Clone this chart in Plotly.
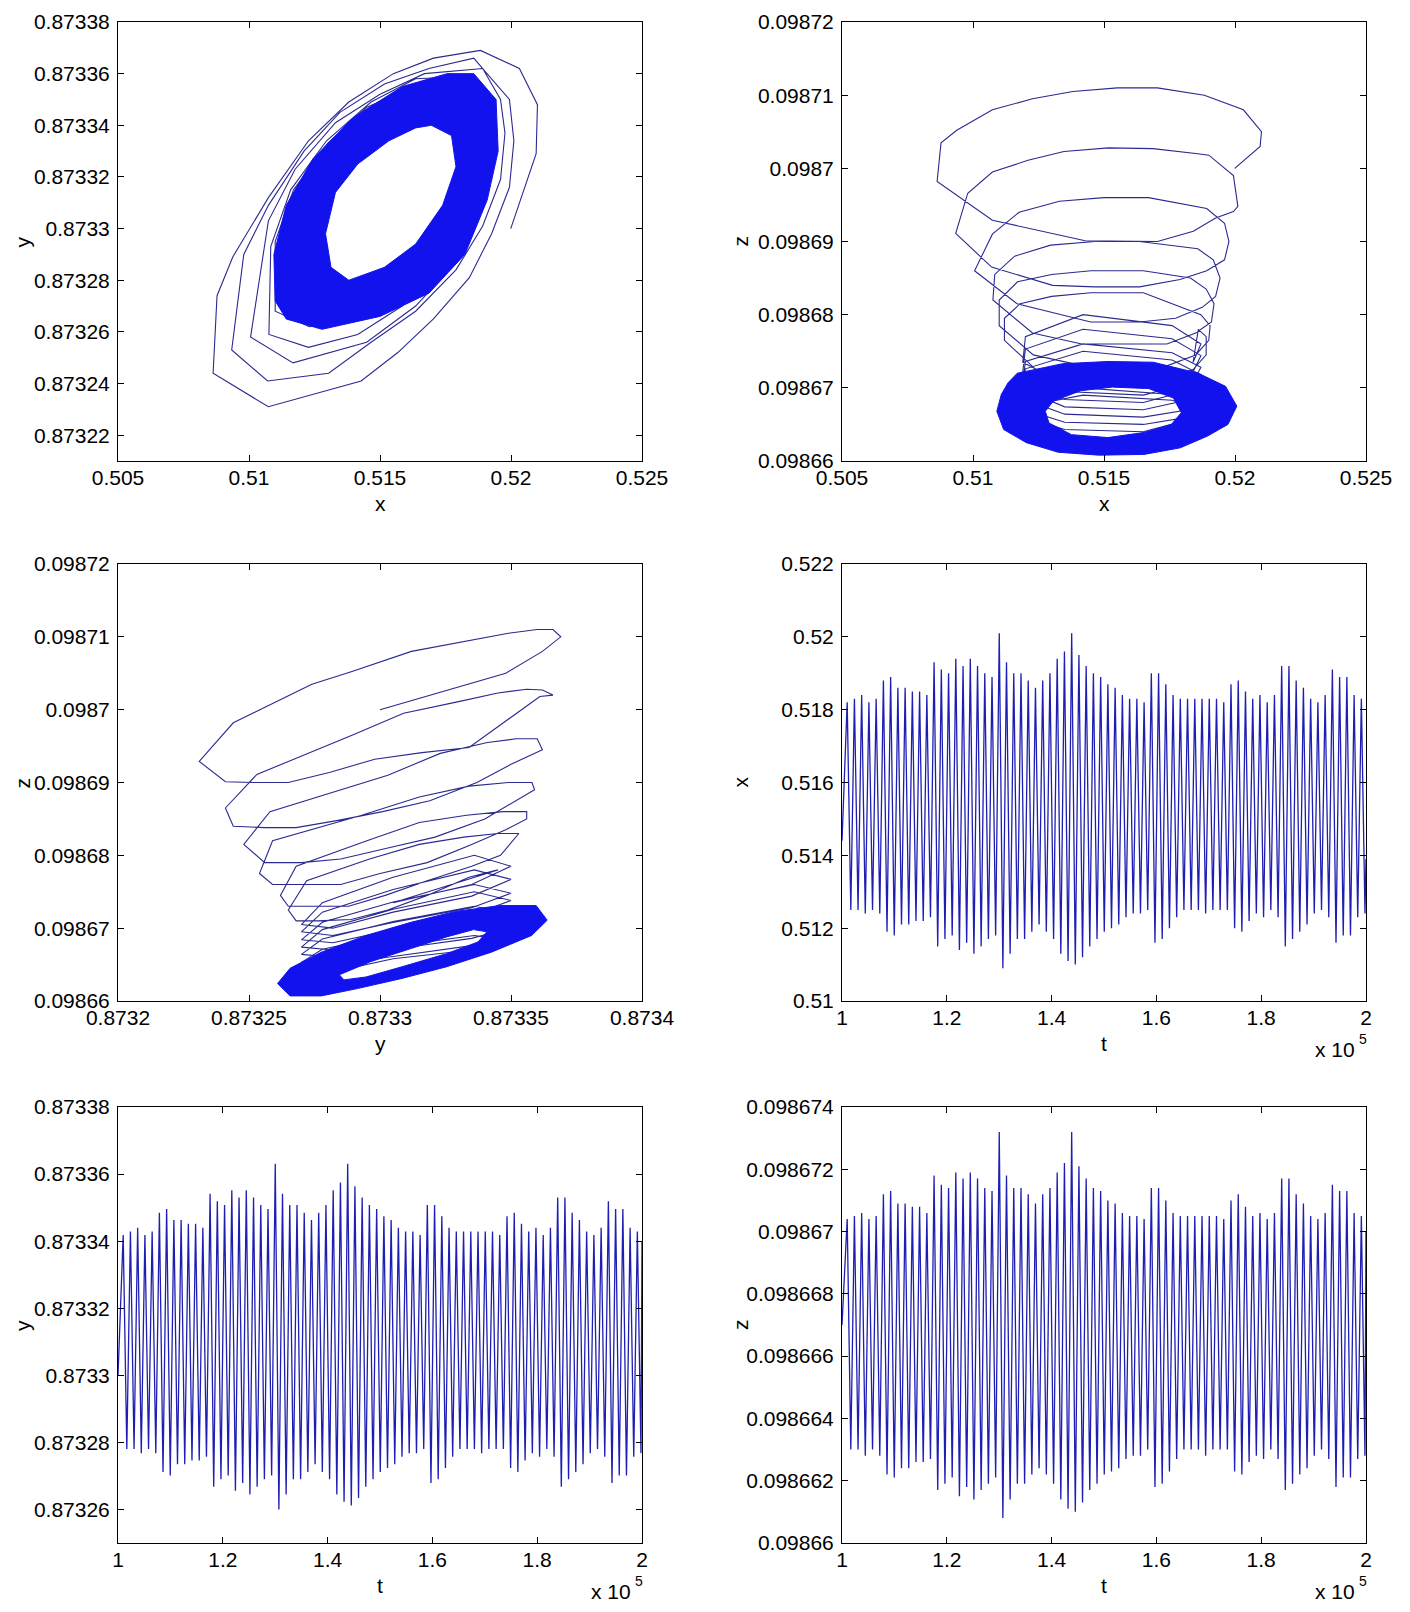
import numpy as np
import plotly.graph_objects as go

FONT = "Liberation Sans, Arial, sans-serif"
LINE = "#2a2a90"     # thin trajectory lines
DENSE = "#1212ee"    # dense attractor band
TS = "#1e1eb2"       # time series

# ---------------- time series (one max + one min per oscillation) ----------------
t_first = 100990     # time of first maximum
t_period = 1382      # oscillation period
t_edges = [100000, 200000]

x_hi = [0.5182, 0.5183, 0.5184, 0.5182, 0.5183, 0.5188, 0.5189, 0.5186, 0.5186, 0.5185,
        0.5185, 0.5184, 0.5193, 0.5191, 0.5190, 0.5194, 0.5192, 0.5194, 0.5192, 0.5190,
        0.5189, 0.5201, 0.5193, 0.5190, 0.5190, 0.5188, 0.5186, 0.5188, 0.5190, 0.5194,
        0.5196, 0.5201, 0.5195, 0.5192, 0.5190, 0.5189, 0.5187, 0.5186, 0.5184, 0.5183,
        0.5183, 0.5182, 0.5190, 0.5190, 0.5187, 0.5184, 0.5183, 0.5183, 0.5183, 0.5183,
        0.5183, 0.5183, 0.5182, 0.5187, 0.5188, 0.5185, 0.5183, 0.5184, 0.5182, 0.5184,
        0.5192, 0.5192, 0.5188, 0.5186, 0.5183, 0.5182, 0.5184, 0.5191, 0.5189, 0.5189,
        0.5184, 0.5183]
x_lo = [0.5125, 0.5125, 0.5124, 0.5125, 0.5124, 0.5119, 0.5118, 0.5121, 0.5121, 0.5122,
        0.5122, 0.5123, 0.5115, 0.5117, 0.5118, 0.5114, 0.5116, 0.5113, 0.5115, 0.5117,
        0.5118, 0.5109, 0.5113, 0.5117, 0.5117, 0.5119, 0.5121, 0.5119, 0.5117, 0.5113,
        0.5111, 0.5110, 0.5112, 0.5115, 0.5117, 0.5119, 0.5120, 0.5121, 0.5123, 0.5124,
        0.5124, 0.5125, 0.5116, 0.5117, 0.5120, 0.5123, 0.5125, 0.5125, 0.5125, 0.5124,
        0.5125, 0.5125, 0.5125, 0.5120, 0.5119, 0.5122, 0.5124, 0.5123, 0.5125, 0.5123,
        0.5115, 0.5117, 0.5119, 0.5121, 0.5124, 0.5125, 0.5123, 0.5116, 0.5118, 0.5118,
        0.5123, 0.5124]
x_edges = [0.5144, 0.5139]

y_hi = [0.8733418, 0.8733429, 0.8733440, 0.8733418, 0.8733429, 0.8733485, 0.8733496, 0.8733463, 0.8733463, 0.8733452,
        0.8733452, 0.8733440, 0.8733541, 0.8733519, 0.8733508, 0.8733552, 0.8733530, 0.8733552, 0.8733530, 0.8733508,
        0.8733496, 0.8733631, 0.8733541, 0.8733508, 0.8733508, 0.8733485, 0.8733463, 0.8733485, 0.8733508, 0.8733552,
        0.8733575, 0.8733631, 0.8733564, 0.8733530, 0.8733508, 0.8733496, 0.8733474, 0.8733463, 0.8733440, 0.8733429,
        0.8733429, 0.8733418, 0.8733508, 0.8733508, 0.8733474, 0.8733440, 0.8733429, 0.8733429, 0.8733429, 0.8733429,
        0.8733429, 0.8733429, 0.8733418, 0.8733474, 0.8733485, 0.8733452, 0.8733429, 0.8733440, 0.8733418, 0.8733440,
        0.8733530, 0.8733530, 0.8733485, 0.8733463, 0.8733429, 0.8733418, 0.8733440, 0.8733519, 0.8733496, 0.8733496,
        0.8733440, 0.8733429]
y_lo = [0.8732780, 0.8732780, 0.8732768, 0.8732780, 0.8732768, 0.8732712, 0.8732701, 0.8732735, 0.8732735, 0.8732746,
        0.8732746, 0.8732757, 0.8732668, 0.8732690, 0.8732701, 0.8732656, 0.8732679, 0.8732645, 0.8732668, 0.8732690,
        0.8732701, 0.8732600, 0.8732645, 0.8732690, 0.8732690, 0.8732712, 0.8732735, 0.8732712, 0.8732690, 0.8732645,
        0.8732623, 0.8732612, 0.8732634, 0.8732668, 0.8732690, 0.8732712, 0.8732724, 0.8732735, 0.8732757, 0.8732768,
        0.8732768, 0.8732780, 0.8732679, 0.8732690, 0.8732724, 0.8732757, 0.8732780, 0.8732780, 0.8732780, 0.8732768,
        0.8732780, 0.8732780, 0.8732780, 0.8732724, 0.8732712, 0.8732746, 0.8732768, 0.8732757, 0.8732780, 0.8732757,
        0.8732668, 0.8732690, 0.8732712, 0.8732735, 0.8732768, 0.8732780, 0.8732757, 0.8732679, 0.8732701, 0.8732701,
        0.8732757, 0.8732768]
y_edges = [0.87330, 0.87334]

z_hi = [0.0986704, 0.0986705, 0.0986706, 0.0986704, 0.0986705, 0.0986712, 0.0986713, 0.0986709, 0.0986709, 0.0986708,
        0.0986708, 0.0986706, 0.0986718, 0.0986715, 0.0986714, 0.0986719, 0.0986717, 0.0986719, 0.0986717, 0.0986714,
        0.0986713, 0.0986732, 0.0986718, 0.0986714, 0.0986714, 0.0986712, 0.0986709, 0.0986712, 0.0986714, 0.0986719,
        0.0986722, 0.0986732, 0.0986721, 0.0986717, 0.0986714, 0.0986713, 0.0986710, 0.0986709, 0.0986706, 0.0986705,
        0.0986705, 0.0986704, 0.0986714, 0.0986714, 0.0986710, 0.0986706, 0.0986705, 0.0986705, 0.0986705, 0.0986705,
        0.0986705, 0.0986705, 0.0986704, 0.0986710, 0.0986712, 0.0986708, 0.0986705, 0.0986706, 0.0986704, 0.0986706,
        0.0986717, 0.0986717, 0.0986712, 0.0986709, 0.0986705, 0.0986704, 0.0986706, 0.0986715, 0.0986713, 0.0986713,
        0.0986706, 0.0986705]
z_lo = [0.0986630, 0.0986630, 0.0986628, 0.0986630, 0.0986628, 0.0986622, 0.0986621, 0.0986624, 0.0986624, 0.0986626,
        0.0986626, 0.0986627, 0.0986617, 0.0986619, 0.0986621, 0.0986615, 0.0986618, 0.0986614, 0.0986617, 0.0986619,
        0.0986621, 0.0986608, 0.0986614, 0.0986619, 0.0986619, 0.0986622, 0.0986624, 0.0986622, 0.0986619, 0.0986614,
        0.0986611, 0.0986610, 0.0986613, 0.0986617, 0.0986619, 0.0986622, 0.0986623, 0.0986624, 0.0986627, 0.0986628,
        0.0986628, 0.0986630, 0.0986618, 0.0986619, 0.0986623, 0.0986627, 0.0986630, 0.0986630, 0.0986630, 0.0986628,
        0.0986630, 0.0986630, 0.0986630, 0.0986623, 0.0986622, 0.0986626, 0.0986628, 0.0986627, 0.0986630, 0.0986627,
        0.0986617, 0.0986619, 0.0986622, 0.0986624, 0.0986628, 0.0986630, 0.0986627, 0.0986618, 0.0986621, 0.0986621,
        0.0986627, 0.0986628]
z_edges = [0.098667, 0.09867]

# ---------------- transient trajectory vertices (x, y, z) ----------------
traj_x = [0.51999, 0.52096, 0.52101, 0.52032, 0.51883, 0.51704, 0.51551, 0.51381, 0.51227, 0.51074,
          0.50938, 0.50878, 0.50863, 0.51074, 0.51428, 0.51568, 0.51704, 0.51841, 0.51926, 0.51994,
          0.52011, 0.51994, 0.51900, 0.51858, 0.51687, 0.51517, 0.51347, 0.51210, 0.51074, 0.50980,
          0.50934, 0.51071, 0.51304, 0.51466, 0.51636, 0.51790, 0.51892, 0.51960, 0.51977, 0.51960,
          0.51892, 0.51670, 0.51500, 0.51330, 0.51176, 0.51074, 0.51006, 0.51168, 0.51449, 0.51636,
          0.51773, 0.51875, 0.51926, 0.51943, 0.51917, 0.51858, 0.51636, 0.51466, 0.51296, 0.51159,
          0.51083, 0.51076, 0.51227, 0.51415, 0.51585, 0.51740, 0.51850, 0.51910, 0.51920, 0.51890,
          0.51830, 0.51650, 0.51450, 0.51300, 0.51170, 0.51100, 0.51100, 0.51230, 0.51420, 0.51590,
          0.51740, 0.51850, 0.51900, 0.51905, 0.51870, 0.51650, 0.51450, 0.51300, 0.51180, 0.51120,
          0.51120, 0.51240, 0.51420, 0.51590, 0.51740, 0.51840, 0.51890, 0.51890, 0.51860,
          0.51840, 0.51870, 0.51760, 0.51420, 0.51200, 0.51190, 0.51350, 0.51650,
          0.51840, 0.51870, 0.51760, 0.51420, 0.51200, 0.51190, 0.51350, 0.51650,
          0.51840, 0.51870, 0.51760, 0.51420, 0.51200, 0.51190, 0.51350, 0.51650,
          0.51840, 0.51870, 0.51760, 0.51420, 0.51200, 0.51190, 0.51350, 0.51650,
          0.51840, 0.51870, 0.51760, 0.51420, 0.51200, 0.51190, 0.51350, 0.51650,
          0.51840, 0.51870, 0.51760, 0.51420, 0.51200, 0.51190, 0.51350, 0.51650,
          0.51840, 0.51870, 0.51760, 0.51420, 0.51200, 0.51190, 0.51350, 0.51650,
          0.51840, 0.51870, 0.51760, 0.51420, 0.51200, 0.51190, 0.51350, 0.51650]
traj_y = [0.873300, 0.873329, 0.873348, 0.873362, 0.873369, 0.873366, 0.873360, 0.873349, 0.873334, 0.873312,
          0.873289, 0.873274, 0.873244, 0.873231, 0.873241, 0.873252, 0.873265, 0.873281, 0.873298, 0.873316,
          0.873334, 0.873350, 0.873361, 0.873366, 0.873362, 0.873356, 0.873345, 0.873330, 0.873309, 0.873290,
          0.873253, 0.873241, 0.873244, 0.873256, 0.873268, 0.873284, 0.873301, 0.873319, 0.873337, 0.873350,
          0.873362, 0.873360, 0.873352, 0.873341, 0.873323, 0.873303, 0.873258, 0.873248, 0.873256, 0.873270,
          0.873285, 0.873303, 0.873321, 0.873340, 0.873352, 0.873359, 0.873358, 0.873349, 0.873334, 0.873315,
          0.873293, 0.873259, 0.873254, 0.873259, 0.873270, 0.873285, 0.873300, 0.873318, 0.873335, 0.873348,
          0.873356, 0.873356, 0.873347, 0.873333, 0.873315, 0.873295, 0.873268, 0.873262, 0.873265, 0.873274,
          0.873288, 0.873302, 0.873318, 0.873335, 0.873346, 0.873353, 0.873345, 0.873332, 0.873315, 0.873296,
          0.873272, 0.873265, 0.873268, 0.873276, 0.873289, 0.873303, 0.873318, 0.873334, 0.873345,
          0.873305, 0.873335, 0.873350, 0.873336, 0.873305, 0.873278, 0.873270, 0.873282,
          0.873305, 0.873335, 0.873350, 0.873336, 0.873305, 0.873278, 0.873270, 0.873282,
          0.873305, 0.873335, 0.873350, 0.873336, 0.873305, 0.873278, 0.873270, 0.873282,
          0.873305, 0.873335, 0.873350, 0.873336, 0.873305, 0.873278, 0.873270, 0.873282,
          0.873305, 0.873335, 0.873350, 0.873336, 0.873305, 0.873278, 0.873270, 0.873282,
          0.873305, 0.873335, 0.873350, 0.873336, 0.873305, 0.873278, 0.873270, 0.873282,
          0.873305, 0.873335, 0.873350, 0.873336, 0.873305, 0.873278, 0.873270, 0.873282,
          0.873305, 0.873335, 0.873350, 0.873336, 0.873305, 0.873278, 0.873270, 0.873282]
traj_z = [0.0987000, 0.0987030, 0.0987050, 0.0987080, 0.0987100, 0.0987110, 0.0987110, 0.0987105, 0.0987095, 0.0987080,
          0.0987052, 0.0987035, 0.0986982, 0.0986929, 0.0986901, 0.0986900, 0.0986900, 0.0986914, 0.0986932, 0.0986941,
          0.0986948, 0.0986990, 0.0987018, 0.0987020, 0.0987027, 0.0987028, 0.0987023, 0.0987011, 0.0986995, 0.0986966,
          0.0986911, 0.0986865, 0.0986840, 0.0986838, 0.0986838, 0.0986848, 0.0986860, 0.0986875, 0.0986900, 0.0986925,
          0.0986945, 0.0986960, 0.0986960, 0.0986955, 0.0986940, 0.0986910, 0.0986860, 0.0986815, 0.0986790, 0.0986790,
          0.0986795, 0.0986810, 0.0986825, 0.0986850, 0.0986875, 0.0986890, 0.0986900, 0.0986900, 0.0986895, 0.0986880,
          0.0986855, 0.0986820, 0.0986775, 0.0986760, 0.0986760, 0.0986760, 0.0986775, 0.0986790, 0.0986815, 0.0986835,
          0.0986850, 0.0986860, 0.0986860, 0.0986855, 0.0986845, 0.0986820, 0.0986785, 0.0986745, 0.0986730, 0.0986730,
          0.0986730, 0.0986745, 0.0986765, 0.0986785, 0.0986800, 0.0986830, 0.0986830, 0.0986825, 0.0986815, 0.0986795,
          0.0986765, 0.0986725, 0.0986710, 0.0986710, 0.0986712, 0.0986725, 0.0986745, 0.0986770, 0.0986780,
          0.0986735, 0.0986760, 0.0986785, 0.0986800, 0.0986770, 0.0986735, 0.0986705, 0.0986700,
          0.0986722, 0.0986744, 0.0986767, 0.0986780, 0.0986753, 0.0986722, 0.0986695, 0.0986690,
          0.0986708, 0.0986728, 0.0986748, 0.0986760, 0.0986736, 0.0986708, 0.0986684, 0.0986680,
          0.0986698, 0.0986718, 0.0986738, 0.0986750, 0.0986726, 0.0986698, 0.0986674, 0.0986670,
          0.0986685, 0.0986702, 0.0986720, 0.0986730, 0.0986709, 0.0986685, 0.0986664, 0.0986660,
          0.0986671, 0.0986686, 0.0986701, 0.0986710, 0.0986692, 0.0986671, 0.0986653, 0.0986650,
          0.0986661, 0.0986676, 0.0986691, 0.0986700, 0.0986682, 0.0986661, 0.0986643, 0.0986640,
          0.0986658, 0.0986670, 0.0986683, 0.0986690, 0.0986675, 0.0986658, 0.0986643, 0.0986640]

# ---------------- dense attractor bands (outer / inner outline) ----------------
xy_out_x = [0.51858, 0.51943, 0.51951, 0.51909, 0.51824, 0.51687, 0.51500, 0.51279, 0.51142, 0.51100,
            0.51095, 0.51142, 0.51244, 0.51398, 0.51585, 0.51756]
xy_out_y = [0.873360, 0.873350, 0.873330, 0.873311, 0.873290, 0.873275, 0.873266, 0.873261, 0.873265, 0.873272,
            0.873290, 0.873309, 0.873327, 0.873343, 0.873355, 0.873360]
xy_in_x = [0.51696, 0.51773, 0.51790, 0.51739, 0.51636, 0.51517, 0.51381, 0.51313, 0.51292, 0.51330,
           0.51415, 0.51534, 0.51636]
xy_in_y = [0.873340, 0.873336, 0.873324, 0.873309, 0.873294, 0.873285, 0.873280, 0.873285, 0.873298, 0.873314,
           0.873325, 0.873334, 0.873339]

xz_out_x = [0.51169, 0.51342, 0.51515, 0.51688, 0.51860, 0.51964, 0.52007, 0.51973, 0.51895, 0.51791,
            0.51653, 0.51480, 0.51325, 0.51204, 0.51117, 0.51091, 0.51108, 0.51134]
xz_out_z = [0.0986720, 0.0986733, 0.0986736, 0.0986735, 0.0986720, 0.0986702, 0.0986675, 0.0986650, 0.0986634, 0.0986618,
            0.0986609, 0.0986608, 0.0986612, 0.0986625, 0.0986643, 0.0986668, 0.0986691, 0.0986707]
xz_in_x = [0.51307, 0.51411, 0.51532, 0.51670, 0.51765, 0.51795, 0.51757, 0.51653, 0.51515, 0.51376,
           0.51290, 0.51276]
xz_in_z = [0.0986682, 0.0986696, 0.0986701, 0.0986699, 0.0986686, 0.0986666, 0.0986650, 0.0986639, 0.0986632, 0.0986636,
           0.0986652, 0.0986668]

yz_out_y = [0.8732609, 0.8732657, 0.8732776, 0.8732947, 0.8733118, 0.8733288, 0.8733459, 0.8733596, 0.8733638, 0.8733579,
            0.8733425, 0.8733254, 0.8733084, 0.8732913, 0.8732776, 0.8732657]
yz_out_z = [0.0986624, 0.0986645, 0.0986667, 0.0986690, 0.0986708, 0.0986723, 0.0986731, 0.0986731, 0.0986711, 0.0986690,
            0.0986667, 0.0986647, 0.0986631, 0.0986617, 0.0986607, 0.0986607]
yz_in_y = [0.8732845, 0.8732964, 0.8733118, 0.8733254, 0.8733357, 0.8733408, 0.8733374, 0.8733254, 0.8733084, 0.8732947,
           0.8732862]
yz_in_z = [0.0986636, 0.0986654, 0.0986672, 0.0986688, 0.0986698, 0.0986695, 0.0986681, 0.0986665, 0.0986647, 0.0986633,
           0.0986629]

# ---------------- build traces ----------------
k = np.arange(len(x_hi))
t_hi = t_first + k * t_period
t_lo = t_hi + t_period / 2
ts_t = np.concatenate([[t_edges[0]], np.column_stack([t_hi, t_lo]).ravel(), [t_edges[1]]])


def zigzag(hi, lo, edges):
    return np.concatenate([[edges[0]], np.column_stack([hi, lo]).ravel(), [edges[1]]])


def band(ox, oy, ix, iy, xa, ya):
    # outer outline + reversed inner outline -> filled ring with a hole
    xs = list(ox) + [ox[0], None] + list(ix[::-1]) + [ix[-1]]
    ys = list(oy) + [oy[0], None] + list(iy[::-1]) + [iy[-1]]
    return go.Scatter(x=xs, y=ys, mode="lines", fill="toself", fillcolor=DENSE,
                      line=dict(color=DENSE, width=1), xaxis=xa, yaxis=ya, hoverinfo="skip")


def path(xs, ys, xa, ya, color=LINE, width=1.1):
    return go.Scatter(x=xs, y=ys, mode="lines", line=dict(color=color, width=width),
                      xaxis=xa, yaxis=ya)


fig = go.Figure()
# phase portraits
fig.add_trace(path(traj_x, traj_y, "x", "y"))
fig.add_trace(band(xy_out_x, xy_out_y, xy_in_x, xy_in_y, "x", "y"))
fig.add_trace(path(traj_x, traj_z, "x2", "y2"))
fig.add_trace(band(xz_out_x, xz_out_z, xz_in_x, xz_in_z, "x2", "y2"))
fig.add_trace(path(traj_y, traj_z, "x3", "y3"))
fig.add_trace(band(yz_out_y, yz_out_z, yz_in_y, yz_in_z, "x3", "y3"))
# time series
fig.add_trace(path(ts_t, zigzag(x_hi, x_lo, x_edges), "x4", "y4", TS, 1.3))
fig.add_trace(path(ts_t, zigzag(y_hi, y_lo, y_edges), "x5", "y5", TS, 1.3))
fig.add_trace(path(ts_t, zigzag(z_hi, z_lo, z_edges), "x6", "y6", TS, 1.3))

# ---------------- layout ----------------
# the page body adds an 8 px margin, so the figure is made 16 px smaller
# and every position below (given in window pixels) is shifted by 8 px
PAD = 8
W, H = 1410 - 2 * PAD, 1612 - 2 * PAD
cols = [(118, 642), (842, 1366)]
rows = [(22, 461), (564, 1001), (1107, 1543)]


def px(v):
    return (v - PAD) / W


def py(v):
    return 1 - (v - PAD) / H


def dom_x(c):
    return [px(cols[c][0]), px(cols[c][1])]


def dom_y(r):
    return [py(rows[r][1]), py(rows[r][0])]


base = dict(showline=True, linecolor="black", linewidth=1, mirror="ticks", ticks="inside",
            ticklen=6, tickcolor="black", showgrid=False, zeroline=False, automargin=False,
            tickfont=dict(family=FONT, size=21, color="black"))

xr_xy = [0.505, 0.525]
xt_xy = [0.505, 0.51, 0.515, 0.52, 0.525]
xl_xy = ["0.505", "0.51", "0.515", "0.52", "0.525"]
zr = [0.09866, 0.09872]
zt = [0.09866, 0.09867, 0.09868, 0.09869, 0.0987, 0.09871, 0.09872]
zl = ["0.09866", "0.09867", "0.09868", "0.09869", "0.0987", "0.09871", "0.09872"]
tt = [100000, 120000, 140000, 160000, 180000, 200000]
tl = ["1", "1.2", "1.4", "1.6", "1.8", "2"]

axes = {
    # (col, row, x range, x ticks, x labels, y range, y ticks, y labels)
    1: (0, 0, xr_xy, xt_xy, xl_xy, [0.87321, 0.87338],
        [0.87322, 0.87324, 0.87326, 0.87328, 0.8733, 0.87332, 0.87334, 0.87336, 0.87338],
        ["0.87322", "0.87324", "0.87326", "0.87328", "0.8733", "0.87332", "0.87334", "0.87336", "0.87338"]),
    2: (1, 0, xr_xy, xt_xy, xl_xy, zr, zt, zl),
    3: (0, 1, [0.8732, 0.8734], [0.8732, 0.87325, 0.8733, 0.87335, 0.8734],
        ["0.8732", "0.87325", "0.8733", "0.87335", "0.8734"], zr, zt, zl),
    4: (1, 1, [100000, 200000], tt, tl, [0.51, 0.522],
        [0.51, 0.512, 0.514, 0.516, 0.518, 0.52, 0.522],
        ["0.51", "0.512", "0.514", "0.516", "0.518", "0.52", "0.522"]),
    5: (0, 2, [100000, 200000], tt, tl, [0.87325, 0.87338],
        [0.87326, 0.87328, 0.8733, 0.87332, 0.87334, 0.87336, 0.87338],
        ["0.87326", "0.87328", "0.8733", "0.87332", "0.87334", "0.87336", "0.87338"]),
    6: (1, 2, [100000, 200000], tt, tl, [0.09866, 0.098674],
        [0.09866, 0.098662, 0.098664, 0.098666, 0.098668, 0.09867, 0.098672, 0.098674],
        ["0.09866", "0.098662", "0.098664", "0.098666", "0.098668", "0.09867", "0.098672", "0.098674"]),
}

lay = {}
for i, (c, r, xr, xtv, xtl, yr, ytv, ytl) in axes.items():
    s = "" if i == 1 else str(i)
    lay["xaxis" + s] = dict(base, domain=dom_x(c), range=xr, tickvals=xtv, ticktext=xtl,
                            anchor="y" + s, ticklabelstandoff=-2)
    lay["yaxis" + s] = dict(base, domain=dom_y(r), range=yr, tickvals=ytv, ticktext=ytl,
                            anchor="x" + s, ticklabelstandoff=3)

# axis titles (x label under each panel, y label left of each panel)
xlab = ["x", "x", "y", "t", "t", "t"]
ylab = ["y", "z", "z", "x", "y", "z"]
ann = []
for i, (c, r, *_rest) in axes.items():
    cx = (cols[c][0] + cols[c][1]) / 2
    ann.append(dict(text=xlab[i - 1], x=px(cx), y=py(rows[r][1] + 42), xref="paper", yref="paper",
                    showarrow=False, font=dict(family=FONT, size=21, color="black"),
                    xanchor="center", yanchor="middle"))
    lx = 22 if c == 0 else 740
    ann.append(dict(text=ylab[i - 1], x=px(lx), y=py((rows[r][0] + rows[r][1]) / 2),
                    xref="paper", yref="paper", showarrow=False, textangle=-90,
                    font=dict(family=FONT, size=21, color="black"),
                    xanchor="center", yanchor="middle"))
    if i >= 4:
        # "x 10^5" multiplier, drawn as base text plus a raised exponent
        ann.append(dict(text="x 10", x=px(cols[c][1] - 9), y=py(rows[r][1] + 48),
                        xref="paper", yref="paper", showarrow=False,
                        font=dict(family=FONT, size=21, color="black"),
                        xanchor="right", yanchor="middle"))
        ann.append(dict(text="5", x=px(cols[c][1] - 9), y=py(rows[r][1] + 38),
                        xref="paper", yref="paper", showarrow=False,
                        font=dict(family=FONT, size=14, color="black"),
                        xanchor="left", yanchor="middle"))

fig.update_layout(**lay)
fig.update_layout(width=W, height=H, margin=dict(l=0, r=0, t=0, b=0),
                  paper_bgcolor="white", plot_bgcolor="white", showlegend=False,
                  annotations=ann)

fig.write_html("out.html")
